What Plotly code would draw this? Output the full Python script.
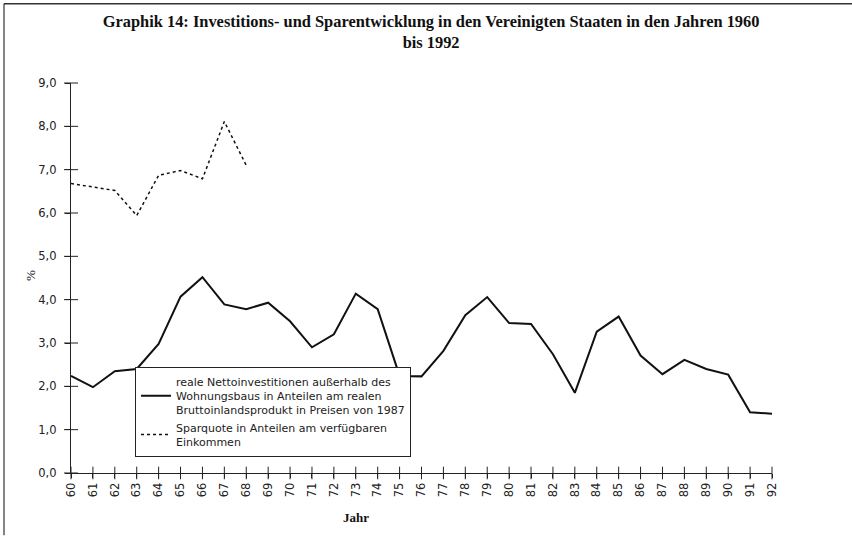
import plotly.graph_objects as go

years = list(range(60, 93))
year_labels = [str(y) for y in years]

invest = [2.24, 1.98, 2.35, 2.40, 2.98, 4.07, 4.52, 3.89, 3.78, 3.93,
          3.50, 2.90, 3.20, 4.14, 3.78, 2.24, 2.23, 2.82, 3.64, 4.06,
          3.46, 3.44, 2.74, 1.85, 3.26, 3.61, 2.71, 2.28, 2.61, 2.40,
          2.27, 1.40, 1.37]

spar_years = list(range(60, 69))
sparquote = [6.68, 6.60, 6.52, 5.94, 6.87, 6.98, 6.79, 8.11, 7.10]

y_ticks = [0, 1, 2, 3, 4, 5, 6, 7, 8, 9]

name_invest = ("reale Nettoinvestitionen außerhalb des<br>Wohnungsbaus in Anteilen am realen<br>"
               "Bruttoinlandsprodukt in Preisen von 1987")
name_spar = "Sparquote in Anteilen am verfügbaren<br>Einkommen"

W, H = 852, 536
ml, mr, mt, mb = 71, 80, 82.5, 62.5
pw, ph = W - ml - mr, H - mt - mb

def px_x(p):
    return (p - ml) / pw

def px_y(p):
    return (H - mb - p) / ph

fig = go.Figure()
fig.add_trace(go.Scatter(x=years, y=invest, mode="lines", name=name_invest,
                         line=dict(color="#111111", width=2)))
fig.add_trace(go.Scatter(x=spar_years, y=sparquote, mode="lines", name=name_spar,
                         line=dict(color="#111111", width=1.5, dash="dot")))
# cross tick marks on the axes (inner half of the "+" ticks)
fig.add_trace(go.Scatter(x=years, y=[0] * len(years), mode="markers", showlegend=False,
                         hoverinfo="skip", cliponaxis=False,
                         marker=dict(symbol="line-ns", size=9, color="#222222",
                                     line=dict(color="#222222", width=1))))
fig.add_trace(go.Scatter(x=[60] * len(y_ticks), y=y_ticks, mode="markers", showlegend=False,
                         hoverinfo="skip", cliponaxis=False,
                         marker=dict(symbol="line-ew", size=10, color="#222222",
                                     line=dict(color="#222222", width=1))))

tickfont = dict(family="DejaVu Sans", size=11.5, color="#222222")

fig.update_layout(
    width=W, height=H,
    margin=dict(l=ml, r=mr, t=mt, b=mb),
    paper_bgcolor="white", plot_bgcolor="white",
    separators=",.",
    title=dict(
        text="Graphik 14: Investitions- und Sparentwicklung in den Vereinigten Staaten in den Jahren 1960<br>bis 1992",
        font=dict(family="Liberation Serif", size=16.4, color="#111111", weight="bold"),
        x=0.506, xanchor="center", y=1 - 27 / H, yanchor="top", yref="container"),
    xaxis=dict(range=[60, 92], tickmode="array", tickvals=years, ticktext=year_labels,
               tickangle=-90, ticks="outside", ticklen=4, tickcolor="#222222",
               showline=True, linecolor="#222222", linewidth=1.2, showgrid=False,
               zeroline=False, tickfont=tickfont),
    yaxis=dict(range=[0, 9], tickmode="array", tickvals=y_ticks, tickformat=".1f",
               ticks="outside", ticklen=5, tickcolor="#222222",
               showline=True, linecolor="#222222", linewidth=1.2, showgrid=False,
               zeroline=False, tickfont=tickfont, ticklabelstandoff=6),
    legend=dict(x=px_x(135), y=px_y(367), xanchor="left", yanchor="top",
                bgcolor="white", bordercolor="#222222", borderwidth=1,
                font=dict(family="DejaVu Sans", size=11, color="#222222"),
                tracegroupgap=12),
    showlegend=True,
    annotations=[
        dict(text="<b>Jahr</b>", x=px_x(356), y=px_y(518), xref="paper", yref="paper",
             xanchor="center", yanchor="middle",
             showarrow=False, font=dict(family="Liberation Serif", size=13, color="#111111")),
        dict(text="%", x=px_x(30), y=px_y(276), xref="paper", yref="paper",
             xanchor="center", yanchor="middle",
             showarrow=False, textangle=-90,
             font=dict(family="Liberation Serif", size=13, color="#111111")),
    ],
    shapes=[
        dict(type="line", xref="paper", yref="paper", x0=px_x(4), x1=px_x(4),
             y0=px_y(3), y1=px_y(536), line=dict(color="#333333", width=1.2)),
        dict(type="line", xref="paper", yref="paper", x0=px_x(4), x1=px_x(852),
             y0=px_y(3), y1=px_y(3), line=dict(color="#333333", width=1.5)),
    ],
)

fig.write_html("out.html", config={"displayModeBar": False},
               post_script="document.body.style.margin='0';document.body.style.overflow='hidden';")
